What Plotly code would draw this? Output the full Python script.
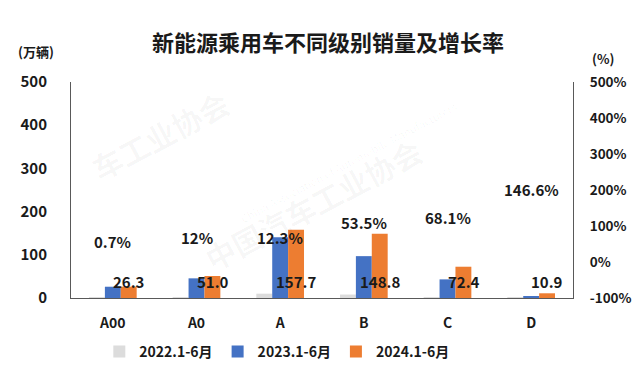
import plotly.graph_objects as go

# ---------------- data ----------------
categories = ["A00", "A0", "A", "B", "C", "D"]
series_names = ["2022.1-6月", "2023.1-6月", "2024.1-6月"]
sales_2022 = [2, 1, 10, 8, 1, 0.3]
sales_2023 = [26.1, 45.5, 140.4, 96.9, 43.1, 4.4]
sales_2024 = [26.3, 51.0, 157.7, 148.8, 72.4, 10.9]
growth_2024 = [0.7, 12, 12.3, 53.5, 68.1, 146.6]
left_ticks = [0, 100, 200, 300, 400, 500]
right_ticks = [-100, 0, 100, 200, 300, 400, 500]

title_text = "新能源乘用车不同级别销量及增长率"
left_unit = "(万辆)"
right_unit = "(%)"

# ---------------- style ----------------
FONT = "Noto Sans CJK SC, Microsoft YaHei, sans-serif"
TXT = "#1a1a1a"
AXIS = "#595959"
colors = ["#DCDCDC", "#4472C4", "#ED7D31"]

fig = go.Figure()
for name, vals, col in zip(series_names, [sales_2022, sales_2023, sales_2024], colors):
    fig.add_trace(go.Bar(x=categories, y=vals, name=name, marker_color=col,
                         marker_line_width=0, hoverinfo="skip"))

# invisible trace to anchor the secondary axis
fig.add_trace(go.Scatter(x=categories, y=growth_2024, yaxis="y2", mode="markers",
                         marker=dict(opacity=0), showlegend=False, hoverinfo="skip"))

annotations = []
# 2024 value labels near the base of the orange bars
for c, v in zip(categories, sales_2024):
    annotations.append(dict(x=c, y=0, xref="x", yref="y", text=f"{v:.1f}",
                            showarrow=False, xshift=16, yshift=17, yanchor="middle",
                            font=dict(family=FONT, size=15, color=TXT, weight="bold")))
# growth rate labels on the secondary axis
for c, g in zip(categories, growth_2024):
    annotations.append(dict(x=c, y=g, xref="x", yref="y2", text=f"{g:g}%",
                            showarrow=False, yshift=20, yanchor="middle",
                            font=dict(family=FONT, size=15, color=TXT, weight="bold")))
# axis units
annotations.append(dict(x=-0.07, y=1.14, xref="paper", yref="paper", text=left_unit,
                        showarrow=False, xanchor="center", yanchor="middle",
                        font=dict(family=FONT, size=13, color=TXT, weight="bold")))
annotations.append(dict(x=1.06, y=1.11, xref="paper", yref="paper", text=right_unit,
                        showarrow=False, xanchor="center", yanchor="middle",
                        font=dict(family=FONT, size=13, color=TXT, weight="bold")))
# faint watermark
wm = "rgba(0,0,0,0.035)"
annotations.append(dict(x=0.72, y=0.80, xref="paper", yref="paper", text="中国汽车工业协会",
                        showarrow=False, textangle=-28,
                        font=dict(family=FONT, size=30, color=wm, weight="bold")))
annotations.append(dict(x=0.78, y=0.63, xref="paper", yref="paper",
                        text="China Association of Automobile Manufacturers",
                        showarrow=False, textangle=-28,
                        font=dict(family=FONT, size=11, color=wm)))
annotations.append(dict(x=0.02, y=1.02, xref="paper", yref="paper", text="车工业协会",
                        showarrow=False, textangle=-28,
                        font=dict(family=FONT, size=30, color=wm, weight="bold")))

fig.update_layout(
    width=640, height=372,
    margin=dict(l=61, r=75, t=74, b=75),
    paper_bgcolor="white", plot_bgcolor="white",
    barmode="group", bargap=0.43, bargroupgap=0,
    font=dict(family=FONT, color=TXT, size=15),
    title=dict(text=title_text, x=0.5, xref="container", xanchor="center",
               y=0.906, yref="container", yanchor="middle",
               font=dict(family=FONT, size=22, color=TXT, weight="bold")),
    xaxis=dict(showline=True, linecolor=AXIS, linewidth=1, ticks="", showgrid=False,
               tickfont=dict(family=FONT, size=14, color=TXT, weight="bold"),
               ticklabelstandoff=12, range=[-0.5, 5.5]),
    yaxis=dict(range=[0, 500], tickvals=left_ticks, showline=True, linecolor=AXIS,
               linewidth=1, ticks="", showgrid=False, zeroline=False,
               tickfont=dict(family=FONT, size=15, color=TXT, weight="bold"),
               ticklabelstandoff=20),
    yaxis2=dict(range=[-100, 500], tickmode="array", tickvals=right_ticks,
                ticktext=[f"{t}%" for t in right_ticks], overlaying="y",
                side="right", showline=True, linecolor=AXIS, linewidth=1, ticks="",
                showgrid=False, zeroline=False,
                tickfont=dict(family=FONT, size=13.5, color=TXT, weight="bold"),
                ticklabelstandoff=13),
    legend=dict(orientation="h", x=0.41, xanchor="center", y=-0.25, yanchor="middle",
                font=dict(family=FONT, size=14, color=TXT, weight="bold"),
                itemwidth=30, traceorder="normal"),
    annotations=annotations,
    showlegend=True,
)

fig.write_html("out.html")
